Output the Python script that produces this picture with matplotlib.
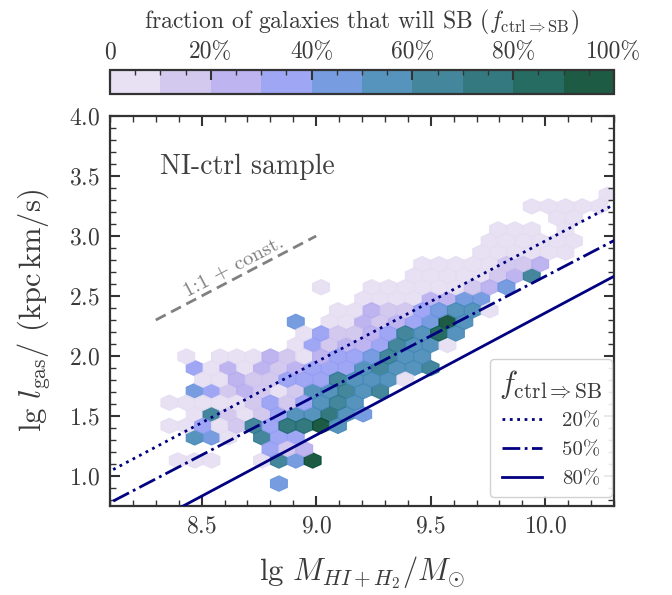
import numpy as np
import matplotlib
matplotlib.use("Agg")
import matplotlib.pyplot as plt
from matplotlib.colors import ListedColormap, Normalize
from matplotlib.ticker import MultipleLocator

# ---------------- data ----------------
# hexagon centres (lg M_gas, lg l_gas) and fraction f_ctrl=>SB in each hexagon
hex_x = [
    8.837,
    8.396, 8.470, 8.543, 8.764, 8.837, 8.911, 8.985,
    8.801, 8.874, 8.948,
    8.470, 8.543, 8.617, 8.764, 8.837, 8.911,
    8.359, 8.433, 8.506, 8.580, 8.653, 8.727, 8.801, 8.874, 8.948, 9.021, 9.095,
    8.470, 8.543, 8.617, 8.690, 8.764, 8.837, 8.911, 8.985, 9.058, 9.132, 9.205,
    8.359, 8.433, 8.506, 8.580, 8.653, 8.727, 8.801, 8.874, 8.948, 9.021, 9.095, 9.168,
    8.470, 8.543, 8.617, 8.690, 8.764, 8.837, 8.911, 8.985, 9.058, 9.132, 9.205, 9.279,
    8.506, 8.580, 8.653, 8.727, 8.801, 8.874, 8.948, 9.021, 9.095, 9.168, 9.242, 9.316, 9.389,
    8.470, 8.543, 8.617, 8.690, 8.764, 8.837, 8.911, 8.985, 9.058, 9.132, 9.205, 9.279, 9.352, 9.426, 9.500,
    8.433, 8.580, 8.653, 8.727, 8.801, 8.874, 8.948, 9.021, 9.095, 9.168, 9.242, 9.316, 9.389, 9.463,
    8.911, 8.985, 9.058, 9.132, 9.205, 9.279, 9.352, 9.426, 9.500, 9.573,
    8.948, 9.021, 9.095, 9.168, 9.242, 9.316, 9.389, 9.463, 9.536, 9.610,
    8.911, 9.058, 9.132, 9.205, 9.279, 9.352, 9.426, 9.500, 9.573, 9.647,
    9.095, 9.168, 9.242, 9.316, 9.389, 9.463, 9.536, 9.610, 9.684, 9.757,
    9.205, 9.279, 9.352, 9.426, 9.500, 9.573, 9.647, 9.720,
    9.021, 9.242, 9.316, 9.389, 9.463, 9.536, 9.610, 9.684, 9.757, 9.831,
    9.426, 9.500, 9.573, 9.647, 9.720, 9.794, 9.867, 9.941,
    9.463, 9.536, 9.610, 9.684, 9.757, 9.831, 9.904, 9.978,
    9.720, 9.794, 9.867, 9.941, 10.015, 10.088,
    9.757, 9.831, 9.904, 9.978, 10.051, 10.125,
    9.794, 9.867, 9.941, 10.088,
    10.051, 10.125,
    9.941, 10.015, 10.088, 10.162, 10.235,
    10.272,
]
hex_y = (
    [0.937] * 1 + [1.129] * 7 + [1.226] * 3 + [1.322] * 6 + [1.418] * 11
    + [1.514] * 11 + [1.611] * 12 + [1.707] * 12 + [1.803] * 13 + [1.899] * 15
    + [1.996] * 14 + [2.092] * 10 + [2.188] * 10 + [2.284] * 10 + [2.381] * 10
    + [2.477] * 8 + [2.573] * 10 + [2.669] * 8 + [2.766] * 8 + [2.862] * 6
    + [2.958] * 6 + [3.054] * 4 + [3.151] * 2 + [3.247] * 5 + [3.343] * 1
)
hex_frac = [
    0.45,
    0.05, 0.05, 0.05, 0.05, 0.65, 0.45, 0.95,
    0.35, 0.15, 0.25,
    0.55, 0.45, 0.05, 0.65, 0.35, 0.35,
    0.05, 0.05, 0.35, 0.05, 0.15, 0.65, 0.35, 0.75, 0.75, 0.95, 0.55,
    0.05, 0.65, 0.15, 0.05, 0.15, 0.35, 0.55, 0.55, 0.75, 0.55, 0.45,
    0.05, 0.05, 0.05, 0.05, 0.05, 0.15, 0.35, 0.15, 0.35, 0.55, 0.65, 0.55,
    0.45, 0.35, 0.15, 0.25, 0.15, 0.05, 0.15, 0.55, 0.55, 0.65, 0.55, 0.65,
    0.05, 0.05, 0.25, 0.15, 0.15, 0.35, 0.35, 0.35, 0.65, 0.55, 0.55, 0.55, 0.05,
    0.35, 0.05, 0.25, 0.05, 0.25, 0.15, 0.25, 0.35, 0.35, 0.35, 0.55, 0.65, 0.55, 0.55, 0.65,
    0.05, 0.05, 0.05, 0.05, 0.25, 0.15, 0.05, 0.25, 0.35, 0.35, 0.45, 0.65, 0.55, 0.55,
    0.05, 0.35, 0.15, 0.25, 0.25, 0.35, 0.65, 0.55, 0.55, 0.05,
    0.05, 0.35, 0.15, 0.15, 0.25, 0.35, 0.65, 0.55, 0.85, 0.55,
    0.45, 0.05, 0.05, 0.25, 0.15, 0.25, 0.35, 0.45, 0.95, 0.55,
    0.05, 0.05, 0.25, 0.15, 0.15, 0.35, 0.45, 0.55, 0.55, 0.05,
    0.05, 0.05, 0.05, 0.05, 0.25, 0.25, 0.45, 0.45,
    0.05, 0.05, 0.05, 0.05, 0.05, 0.05, 0.05, 0.15, 0.25, 0.45,
    0.05, 0.05, 0.05, 0.05, 0.05, 0.15, 0.25, 0.65,
    0.05, 0.05, 0.05, 0.05, 0.05, 0.15, 0.15, 0.25,
    0.05, 0.05, 0.05, 0.05, 0.05, 0.05,
    0.05, 0.05, 0.05, 0.05, 0.05, 0.05,
    0.05, 0.05, 0.05, 0.05,
    0.05, 0.05,
    0.05, 0.05, 0.05, 0.05, 0.05,
    0.05,
]

# iso-fraction lines: lg l = slope * lg M + intercept
line_labels = ["20%", "50%", "80%"]
line_slope = [1.010, 0.993, 1.018]
line_icpt = [-7.141, -7.266, -7.821]

# 1:1 reference segment
ref_x = [8.30, 9.00]
ref_y = [2.30, 3.00]

cbar_ticks = [0.0, 0.2, 0.4, 0.6, 0.8, 1.0]
cbar_ticklabels = ["0", "20%", "40%", "60%", "80%", "100%"]

level_colors = ["#E5DEF2", "#CFC4EE", "#B7ACEF", "#959EF4", "#6893DD",
                "#4489B7", "#2F7A91", "#1F6B72", "#0E5C51", "#054930"]

# ---------------- style ----------------
plt.rcParams.update({
    "font.family": "serif",
    "font.serif": ["cmr10"],
    "mathtext.fontset": "cm",
    "axes.unicode_minus": False,
    "axes.formatter.use_mathtext": True,
})
txt_col = "#3a3a3a"
spine_col = "#333333"

fig = plt.figure(figsize=(6.72, 5.95), dpi=100)
ax = fig.add_axes([110 / 672, 89 / 595, 504 / 672, 390 / 595])

cmap = ListedColormap(level_colors)
norm = Normalize(0, 1)

hb = ax.hexbin(hex_x, hex_y, C=hex_frac, reduce_C_function=np.mean,
               gridsize=(30, 14), extent=(8.10166, 10.30888, 0.74429, 3.43946),
               cmap=cmap, norm=norm, alpha=0.9, linewidths=0.8,
               edgecolors="face", zorder=1)

xl = np.array([8.0, 10.4])
styles = [":", "-.", "-"]
for lab, s, c, ls in zip(line_labels, line_slope, line_icpt, styles):
    ax.plot(xl, s * xl + c, color="navy", ls=ls, lw=2.0, label=lab, zorder=3)

ax.plot(ref_x, ref_y, color="gray", ls="--", lw=2.0, dashes=(4, 2.2), zorder=3)

ax.set_xlim(8.1, 10.3)
ax.set_ylim(0.75, 4.0)

ax.xaxis.set_major_locator(MultipleLocator(0.5))
ax.xaxis.set_minor_locator(MultipleLocator(0.1))
ax.yaxis.set_major_locator(MultipleLocator(0.5))
ax.yaxis.set_minor_locator(MultipleLocator(0.1))
ax.tick_params(which="both", direction="in", top=True, right=True,
               color=spine_col, labelcolor=txt_col)
ax.tick_params(which="major", length=7, width=1.5, labelsize=17, pad=7)
ax.tick_params(which="minor", length=4, width=1.0)
for sp in ax.spines.values():
    sp.set_linewidth(1.6)
    sp.set_color(spine_col)

ax.set_xlabel(r"lg $M_{HI+H_2}/M_{\odot}$", fontsize=22, color=txt_col, labelpad=12)
ax.set_ylabel(r"lg $l_{\rm gas}/$ (kpc$\,$km/s)", fontsize=22, color=txt_col, labelpad=12)

ax.text(0.099, 0.852, "NI-ctrl sample", transform=ax.transAxes, fontsize=20,
        color="#404040", ha="left", va="baseline")

# rotated label along the 1:1 segment
p1 = ax.transData.transform((ref_x[0], ref_y[0]))
p2 = ax.transData.transform((ref_x[1], ref_y[1]))
ang = np.degrees(np.arctan2(p2[1] - p1[1], p2[0] - p1[0]))
ax.text(8.64, 2.74, "1:1 + const.", rotation=ang, rotation_mode="anchor",
        ha="center", va="center", fontsize=15, color="gray")

leg = ax.legend(loc="lower right", bbox_to_anchor=(0.997, 0.022),
                title=r"$f_{\rm ctrl\Rightarrow SB}$",
                fontsize=15, title_fontsize=22, frameon=True, fancybox=True,
                edgecolor="#cccccc", framealpha=0.9, handlelength=1.9,
                handletextpad=1.0, borderaxespad=0.0, labelspacing=0.5,
                borderpad=0.45)
for t in leg.get_texts():
    t.set_color(txt_col)
leg.get_title().set_color(txt_col)

# colorbar on top
cax = fig.add_axes([110 / 672, (595 - 94) / 595, 504 / 672, 24 / 595])
cb = fig.colorbar(hb, cax=cax, orientation="horizontal", ticklocation="top")
cb.set_ticks(cbar_ticks)
cb.set_ticklabels(cbar_ticklabels)
cax.xaxis.set_minor_locator(MultipleLocator(0.05))
cax.tick_params(which="both", direction="in", top=True, bottom=False,
                color=spine_col, labelcolor=txt_col)
cax.tick_params(which="major", length=7, width=1.5, labelsize=17, pad=5)
cax.tick_params(which="minor", length=3.5, width=1.0)
cb.outline.set_linewidth(1.6)
cb.outline.set_edgecolor(spine_col)
cb.set_label(r"fraction of galaxies that will SB ($f_{\rm ctrl\Rightarrow SB}$)",
             fontsize=17, color=txt_col, labelpad=9)

fig.savefig("out.png", dpi=100)
